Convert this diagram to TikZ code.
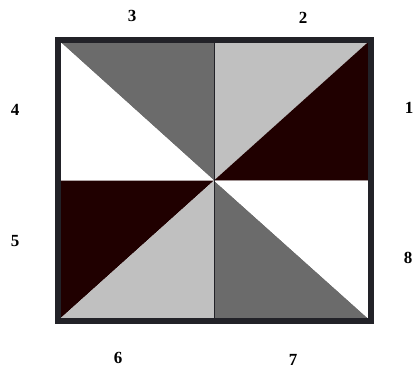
\documentclass[tikz,border=0pt]{standalone}
\usepackage{fontspec}
\setmainfont{Liberation Serif}
\definecolor{dgray}{HTML}{6B6B6B}
\definecolor{lgray}{HTML}{C0C0C0}
\definecolor{maroon}{HTML}{200000}
\definecolor{frame}{HTML}{222228}
\tikzset{
  lbl/.style={font=\fontsize{17}{17}\selectfont\bfseries, inner sep=0pt},
  tri/.style={draw=none}
}
\begin{document}
\begin{tikzpicture}[x=1pt,y=-1pt]
\useasboundingbox (0,0) rectangle (414,373);
\coordinate (TL) at (57.5,39.5);
\coordinate (TR) at (371,39.5);
\coordinate (BL) at (57.5,321);
\coordinate (BR) at (371,321);
\coordinate (C) at (214,180.5);
\coordinate (TM) at (214,39.5);
\coordinate (BM) at (214,321);
\coordinate (LM) at (57.5,180.5);
\coordinate (RM) at (371,180.5);
% top-left quadrant
\fill[dgray] (TL) -- (TM) -- (C) -- cycle;
\fill[white] (TL) -- (LM) -- (C) -- cycle;
% top-right quadrant
\fill[lgray] (TM) -- (TR) -- (C) -- cycle;
\fill[maroon] (TR) -- (RM) -- (C) -- cycle;
% bottom-left quadrant
\fill[maroon] (LM) -- (C) -- (BL) -- cycle;
\fill[lgray] (BL) -- (BM) -- (C) -- cycle;
% bottom-right quadrant
\fill[dgray] (C) -- (BM) -- (BR) -- cycle;
\fill[white] (C) -- (RM) -- (BR) -- cycle;
% middle line
\draw[frame, line width=0.8pt] (TM) -- (BM);
% frame
\draw[frame, line width=6pt] (TL) rectangle (BR);
% labels
\node[lbl] (n3) at (132,16) {3};
\node[lbl] (n2) at (303,18) {2};
\node[lbl] (n1) at (409,108) {1};
\node[lbl] (n4) at (15,110) {4};
\node[lbl] (n5) at (15,241) {5};
\node[lbl] (n8) at (408,258) {8};
\node[lbl] (n6) at (118,358) {6};
\node[lbl] (n7) at (293,360) {7};
\end{tikzpicture}
\end{document}
